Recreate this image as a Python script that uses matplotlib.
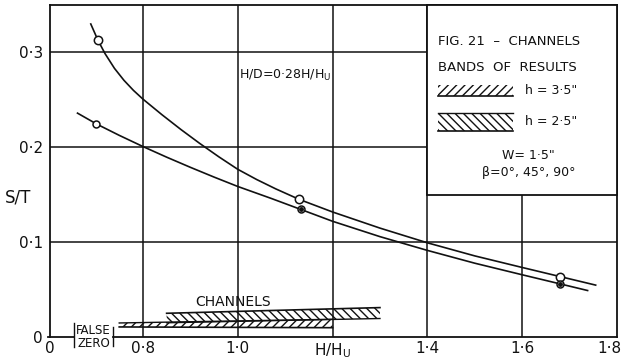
"""
Fig. 21 - Channels: S/T contra H/Hu con bandas de resultados.
"""

import numpy as np
import matplotlib.pyplot as plt
from matplotlib.patches import Rectangle

# ============================================================
# DATOS
# ============================================================

# Curva superior (circulos abiertos)
upper_x = [0.690, 0.705, 0.72, 0.74, 0.76, 0.78, 0.80, 0.84, 0.88, 0.92, 0.96,
           1.00, 1.04, 1.08, 1.13, 1.20, 1.30, 1.40, 1.50, 1.60, 1.68, 1.755]
upper_y = [0.330, 0.313, 0.2988, 0.2832, 0.2706, 0.2600, 0.2508, 0.2344, 0.2188,
           0.2040, 0.1900, 0.1768, 0.1660, 0.1562, 0.1450, 0.1318, 0.1148,
           0.0993, 0.0855, 0.0733, 0.0637, 0.0547]

# Curva inferior (circulos con punto)
lower_x = [0.662, 0.702, 0.75, 0.80, 0.85, 0.90, 0.95, 1.00, 1.07, 1.133,
           1.20, 1.30, 1.40, 1.50, 1.60, 1.68, 1.738]
lower_y = [0.236, 0.2246, 0.2126, 0.2008, 0.1896, 0.1789, 0.1686, 0.1587,
           0.1462, 0.1345, 0.1220, 0.1058, 0.0913, 0.0778, 0.0656, 0.0560, 0.0490]

upper_pts_x = [0.705, 1.13, 1.68]
upper_pts_y = [0.313, 0.145, 0.0637]
lower_pts_x = [0.702, 1.133, 1.68]
lower_pts_y = [0.2246, 0.1345, 0.0560]

# Bandas de resultados (canales)
band_25_x = [0.85, 1.30]
band_25_top = [0.025, 0.031]
band_25_bot = [0.0150, 0.0195]

band_35_x = [0.75, 1.20]
band_35_top = [0.0148, 0.0187]
band_35_bot = [0.0106, 0.0098]

# Ejes
x_ticks = [0.604, 0.8, 1.0, 1.2, 1.4, 1.6]
x_labels = ['0', '0·8', '1·0', r'$\mathregular{H/H_U}$', '1·4', '1·6']
x_last, x_last_label = 1.8, '1·8'
y_ticks = [0, 0.1, 0.2, 0.3]
y_labels = ['0', '0·1', '0·2', '0·3']
x_grid = [0.8, 1.0, 1.2, 1.4, 1.6]
y_grid = [0.1, 0.2, 0.3]

INK = '#111111'

# ============================================================
# FIGURA
# ============================================================

plt.rcParams['hatch.linewidth'] = 1.0

fig = plt.figure(figsize=(6.22, 3.61), dpi=100)
ax = fig.add_axes([50 / 622, 24 / 361, 567 / 622, 332 / 361])
ax.set_xlim(0.604, 1.8)
ax.set_ylim(0, 0.35)

# Rejilla
for gx in x_grid:
    ax.axvline(gx, color=INK, lw=1.1, zorder=1)
for gy in y_grid:
    ax.axhline(gy, color=INK, lw=1.1, zorder=1)

for s in ['left', 'top', 'right']:
    ax.spines[s].set_linewidth(1.3)
    ax.spines[s].set_color(INK)
ax.spines['bottom'].set_visible(False)

# Eje inferior con "cero falso"
ax.plot([0.600, 0.655], [0, 0], color=INK, lw=1.3, clip_on=False)
ax.plot([0.737, 1.8], [0, 0], color=INK, lw=1.3, clip_on=False)
ax.plot([0.655, 0.655], [0.015, -0.011], color=INK, lw=1.0, clip_on=False)
ax.plot([0.737, 0.737], [0.011, -0.010], color=INK, lw=1.0, clip_on=False)
ax.text(0.696, 0.0, 'FALSE\nZERO', ha='center', va='center', fontsize=8.5,
        linespacing=0.95, color=INK)

ax.set_xticks(x_ticks)
ax.set_xticklabels(x_labels, fontsize=11)
ax.set_yticks(y_ticks)
ax.set_yticklabels(y_labels, fontsize=11)
ax.tick_params(length=0, colors=INK)
ax.tick_params(axis='x', pad=3)
ax.tick_params(axis='y', pad=5)

# "1·8" pegado al borde derecho, como en el original
ax.annotate(x_last_label, xy=(x_last, 0), xycoords=('data', 'axes fraction'),
            xytext=(3, -3), textcoords='offset points', ha='right', va='top',
            fontsize=11, color=INK, annotation_clip=False)

fig.text(18 / 622, 1 - 197 / 361, 'S/T', fontsize=12, ha='center', va='center',
         color=INK)

# Curvas
ax.plot(upper_x, upper_y, color=INK, lw=1.2, zorder=4)
ax.plot(lower_x, lower_y, color=INK, lw=1.2, zorder=4)
ax.plot(upper_pts_x, upper_pts_y, 'o', ms=6, mfc='white', mec=INK, mew=1.1, zorder=5)
ax.plot(lower_pts_x, lower_pts_y, 'o', ms=5, mfc='white', mec=INK, mew=1.1, zorder=5)
ax.plot(lower_pts_x[1:], lower_pts_y[1:], 'o', ms=2.5, color=INK, zorder=6)

ax.text(1.003, 0.276, r'H/D=0·28$\mathregular{H/H_U}$', fontsize=9, ha='left',
        va='center', color=INK, zorder=5)

# Bandas de canales
ax.fill_between(band_25_x, band_25_bot, band_25_top, facecolor='none',
                edgecolor=INK, hatch='\\\\\\\\', linewidth=0, zorder=3)
ax.plot(band_25_x, band_25_top, color=INK, lw=1.2, zorder=3)
ax.plot(band_25_x, band_25_bot, color=INK, lw=1.0, zorder=3)
ax.fill_between(band_35_x, band_35_bot, band_35_top, facecolor='none',
                edgecolor=INK, hatch='////', linewidth=0, zorder=3)
ax.plot(band_35_x, band_35_top, color=INK, lw=1.0, zorder=3)
ax.plot(band_35_x, band_35_bot, color=INK, lw=1.2, zorder=3)
ax.text(0.99, 0.037, 'CHANNELS', fontsize=10, ha='center', va='center', color=INK)

# Recuadro de leyenda
ax.add_patch(Rectangle((1.4, 0.150), 0.4, 0.2, facecolor='white', edgecolor=INK,
                       lw=1.3, zorder=7, clip_on=False))
ax.text(1.423, 0.311, 'FIG. 21  –  CHANNELS', fontsize=9.5, ha='left', va='center',
        color=INK, zorder=8)
ax.text(1.423, 0.2846, 'BANDS  OF  RESULTS', fontsize=9.5, ha='left', va='center',
        color=INK, zorder=8)

ax.add_patch(Rectangle((1.423, 0.254), 0.158, 0.0116, facecolor='none',
                       edgecolor=INK, hatch='////', lw=0, zorder=8))
ax.plot([1.423, 1.581], [0.254, 0.254], color=INK, lw=1.2, zorder=8)
ax.text(1.606, 0.260, 'h = 3·5"', fontsize=9, ha='left', va='center',
        color=INK, zorder=8)

ax.add_patch(Rectangle((1.423, 0.2169), 0.158, 0.0196, facecolor='none',
                       edgecolor=INK, hatch='\\\\\\\\', lw=0, zorder=8))
ax.plot([1.423, 1.581], [0.2365, 0.2365], color=INK, lw=1.0, zorder=8)
ax.plot([1.423, 1.581], [0.2169, 0.2169], color=INK, lw=1.2, zorder=8)
ax.text(1.606, 0.2275, 'h = 2·5"', fontsize=9, ha='left', va='center',
        color=INK, zorder=8)

ax.text(1.613, 0.1915, 'W= 1·5"', fontsize=9, ha='center', va='center',
        color=INK, zorder=8)
ax.text(1.613, 0.1735, 'β=0°, 45°, 90°', fontsize=9, ha='center', va='center',
        color=INK, zorder=8)

plt.savefig('out.png', dpi=100, facecolor='white')
plt.close()
print("Guardado: out.png")
